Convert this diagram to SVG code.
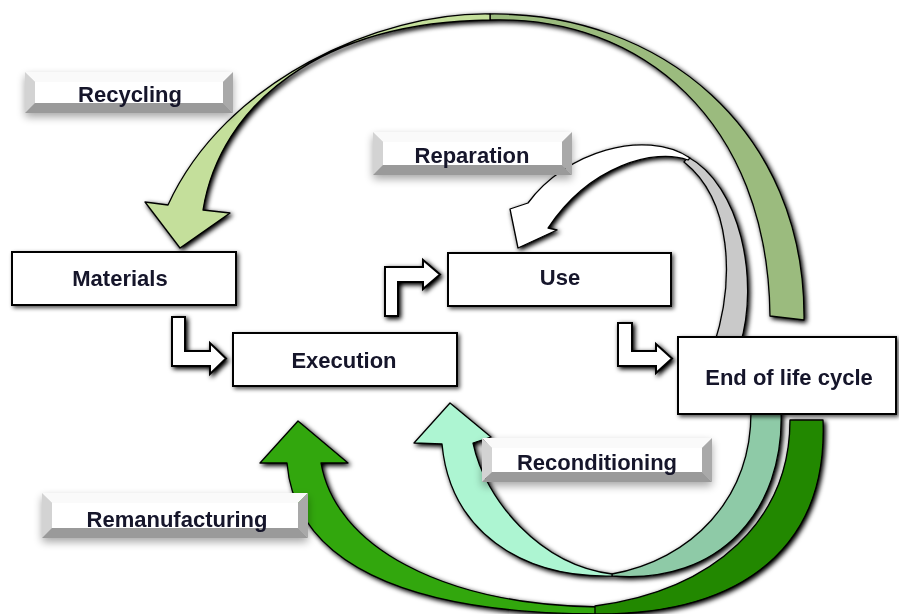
<svg xmlns="http://www.w3.org/2000/svg" width="899" height="614" viewBox="0 0 899 614">
  <defs>
    <style>
      .box{fill:#fff;stroke:#000;stroke-width:2}
      .t{font-family:"Liberation Sans",Arial,sans-serif;font-weight:bold;font-size:22px;fill:#13132a;text-anchor:middle}
      .edge{stroke:#000;stroke-width:1.3;stroke-linejoin:round}
      .elbow{fill:#fff;stroke:#000;stroke-width:2;stroke-linejoin:miter}
      .face{fill:#fff}
      .bt{fill:#fafafa}
      .bl{fill:#d3d3d3}
      .br{fill:#a9a9a9}
      .bb{fill:#9a9a9a}
    </style>
    <!-- dark halo used by arrows -->
    <filter id="ds" x="-20%" y="-20%" width="140%" height="140%">
      <feGaussianBlur in="SourceAlpha" stdDeviation="2.8"/>
      <feOffset dx="2" dy="2"/>
      <feComponentTransfer><feFuncA type="linear" slope="1.1"/></feComponentTransfer>
      <feMerge><feMergeNode/><feMergeNode in="SourceGraphic"/></feMerge>
    </filter>
    <!-- lighter halo for boxes -->
    <filter id="bs" x="-10%" y="-20%" width="120%" height="140%">
      <feGaussianBlur in="SourceAlpha" stdDeviation="2"/>
      <feOffset dx="1.5" dy="1.5"/>
      <feComponentTransfer><feFuncA type="linear" slope="0.7"/></feComponentTransfer>
      <feMerge><feMergeNode/><feMergeNode in="SourceGraphic"/></feMerge>
    </filter>
    <!-- soft drop shadow under bevelled labels -->
    <filter id="ls" x="-10%" y="-30%" width="120%" height="170%">
      <feGaussianBlur in="SourceAlpha" stdDeviation="4.5"/>
      <feOffset dx="0" dy="4"/>
      <feComponentTransfer><feFuncA type="linear" slope="0.35"/></feComponentTransfer>
      <feMerge><feMergeNode/><feMergeNode in="SourceGraphic"/></feMerge>
    </filter>
  </defs>

  <rect width="899" height="614" fill="#fff"/>

  <g id="connectors">
    <!-- Recycling: End of life cycle -> Materials -->
    <g id="arrow-recycling" filter="url(#ds)">
      <path class="edge" fill="#9bbb7e" d="M490,14 C660,12 806,130 804,320 L770,316 C768,120 640,15 490,20 Z"/>
      <path class="edge" fill="#c4df9b" d="M168,205 L145,202 L180,248 L230,213 L203,210 C220,105 320,22 490,20 L490,14 C380,12 225,80 168,205 Z"/>
    </g>
    <!-- Reparation: End of life cycle -> Use -->
    <g id="arrow-reparation" filter="url(#ds)">
      <path class="edge" fill="#c9c9c9" d="M688,157 C740,185 760,280 740,345 L714,345 C735,280 732,200 684,162 Z"/>
      <path class="edge" fill="#fff" d="M518,248 L510,209 L528,203 C565,152 645,128 690,158 L688,160 C655,148 590,165 548,228 L557,230 Z"/>
    </g>
    <!-- Remanufacturing: End of life cycle -> Execution -->
    <g id="arrow-remanufacturing" filter="url(#ds)">
      <path class="edge" fill="#30a70c" d="M298,421 L260,463 L287,463 C295,560 400,614 600,614 L600,607 C440,605 335,545 321,463 L348,463 Z"/>
      <path class="edge" fill="#238800" d="M595,614 C745,615 828,545 823,420 L790,420 C790,520 715,590 595,606 Z"/>
    </g>
    <!-- Reconditioning: End of life cycle -> Execution -->
    <g id="arrow-reconditioning" filter="url(#ds)">
      <path class="edge" fill="#8ecaa7" d="M612,576 C720,585 785,510 781,410 L751,410 C752,500 690,560 612,574 Z"/>
      <path class="edge" fill="#adf5d2" d="M450,403 L414,443 L442,444 C450,530 520,578 612,576 L612,574 C540,565 485,500 473,443 L491,437 Z"/>
    </g>
    <!-- process flow elbows -->
    <path id="flow-materials-execution" class="elbow" filter="url(#ds)" d="M172,317 L185,317 L185,351 L210,351 L210,343 L226,358.5 L210,374 L210,366 L172,366 Z"/>
    <path id="flow-execution-use" class="elbow" filter="url(#ds)" d="M385,316 L385,267 L423,267 L423,260 L440,274.5 L423,289 L423,282 L398,282 L398,316 Z"/>
    <path id="flow-use-end" class="elbow" filter="url(#ds)" d="M618,323 L632,323 L632,351 L656,351 L656,344 L672,358.5 L656,373 L656,366 L618,366 Z"/>
  </g>

  <g id="node-materials" filter="url(#bs)">
    <rect class="box" x="12" y="252" width="224" height="53"/>
    <text class="t" x="120" y="286">Materials</text>
  </g>
  <g id="node-execution" filter="url(#bs)">
    <rect class="box" x="233" y="333" width="224" height="53"/>
    <text class="t" x="344" y="368">Execution</text>
  </g>
  <g id="node-use" filter="url(#bs)">
    <rect class="box" x="448" y="253" width="223" height="53"/>
    <text class="t" x="560" y="285">Use</text>
  </g>
  <g id="node-end" filter="url(#bs)">
    <rect class="box" x="678" y="337" width="218" height="77"/>
    <text class="t" x="789" y="385">End of life cycle</text>
  </g>

  <g id="label-recycling" filter="url(#ls)">
    <polygon class="bt" points="25,72 233,72 223,82 35,82"/>
    <polygon class="bl" points="25,72 35,82 35,103 25,113"/>
    <polygon class="br" points="233,72 233,113 223,103 223,82"/>
    <polygon class="bb" points="25,113 35,103 223,103 233,113"/>
    <rect class="face" x="35" y="82" width="188" height="21"/>
    <text class="t" x="130" y="102">Recycling</text>
  </g>
  <g id="label-reparation" filter="url(#ls)">
    <polygon class="bt" points="373,132 572,132 562,142 383,142"/>
    <polygon class="bl" points="373,132 383,142 383,165 373,175"/>
    <polygon class="br" points="572,132 572,175 562,165 562,142"/>
    <polygon class="bb" points="373,175 383,165 562,165 572,175"/>
    <rect class="face" x="383" y="142" width="179" height="23"/>
    <text class="t" x="472" y="163">Reparation</text>
  </g>
  <g id="label-reconditioning" filter="url(#ls)">
    <polygon class="bt" points="482,438 712,438 702,448 492,448"/>
    <polygon class="bl" points="482,438 492,448 492,472 482,482"/>
    <polygon class="br" points="712,438 712,482 702,472 702,448"/>
    <polygon class="bb" points="482,482 492,472 702,472 712,482"/>
    <rect class="face" x="492" y="448" width="210" height="24"/>
    <text class="t" x="597" y="470">Reconditioning</text>
  </g>
  <g id="label-remanufacturing" filter="url(#ls)">
    <polygon class="bt" points="42,493 308,493 298,503 52,503"/>
    <polygon class="bl" points="42,493 52,503 52,528 42,538"/>
    <polygon class="br" points="308,493 308,538 298,528 298,503"/>
    <polygon class="bb" points="42,538 52,528 298,528 308,538"/>
    <rect class="face" x="52" y="503" width="246" height="25"/>
    <text class="t" x="177" y="527">Remanufacturing</text>
  </g>
</svg>
